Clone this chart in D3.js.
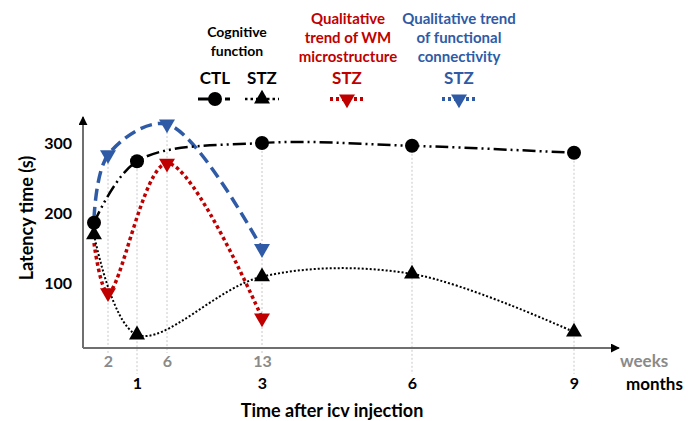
<!DOCTYPE html>
<html>
<head>
<meta charset="utf-8">
<script src="https://cdn.jsdelivr.net/npm/d3@7"></script>
<style>
  body { margin: 0; background: #fff; }
  text { font-family: Lato, "Open Sans", sans-serif; font-weight: 700; }
</style>
</head>
<body>
<svg id="chart" width="694" height="421"></svg>
<script>
// time in weeks (1 month = 13/3 weeks)
var weekTicks = [2, 6, 13];
var monthTicks = [1, 3, 6, 9];
var yTicks = [100, 200, 300];

var ctlWeeks = [0, 13 / 3, 13, 26, 39];
var ctlValues = [186, 274, 300, 296, 286];
var stzWeeks = [0, 13 / 3, 13, 26, 39];
var stzValues = [169, 26, 109, 113, 30];
var wmWeeks = [0, 2, 6, 13];
var wmValues = [157, 86, 271, 50];
var fcWeeks = [0, 2, 6, 13];
var fcValues = [192, 283, 327, 149];

var red = "#c00000";
var blue = "#2f5ba6";
var axisGray = "#6f6f6f";
var axisY = 348;

var svg = d3.select("#chart");

// schematic (uneven) time axis
var x = d3.scaleLinear()
  .domain([0, 2, 13 / 3, 6, 13, 26, 39])
  .range([94, 108, 137, 167, 262, 412, 574]);
var y = d3.scaleLinear().domain([0, 300]).range([353, 143]);

function pts(ws, vs) {
  return ws.map(function(w, i) { return {w: w, v: vs[i]}; });
}
var ctl = pts(ctlWeeks, ctlValues);
var stz = pts(stzWeeks, stzValues);
var wm = pts(wmWeeks, wmValues);
var fc = pts(fcWeeks, fcValues);

var defs = svg.append("defs");
defs.append("marker")
  .attr("id", "arrow")
  .attr("viewBox", "0 0 10 10")
  .attr("refX", 9).attr("refY", 5)
  .attr("markerWidth", 9).attr("markerHeight", 9)
  .attr("markerUnits", "userSpaceOnUse")
  .attr("orient", "auto")
  .append("path").attr("d", "M0,0L10,5L0,10Z").attr("fill", "#000");

// vertical guides
var guideWeeks = [2, 13 / 3, 6, 13, 26, 39];
var all = ctl.concat(stz, wm, fc);
guideWeeks.forEach(function(w) {
  var top = d3.max(all.filter(function(d) { return Math.abs(d.w - w) < 0.01; }), function(d) { return d.v; });
  var isWeekLabel = weekTicks.indexOf(w) >= 0;
  svg.append("line")
    .attr("x1", x(w)).attr("x2", x(w))
    .attr("y1", y(top)).attr("y2", isWeekLabel ? axisY + 5 : axisY + 26)
    .attr("stroke", "#c8c8c8")
    .attr("stroke-width", 1)
    .attr("stroke-dasharray", "2,2");
});

// axes lines
svg.append("line")
  .attr("x1", 83).attr("x2", 83).attr("y1", axisY).attr("y2", 117)
  .attr("stroke", axisGray).attr("stroke-width", 2)
  .attr("marker-end", "url(#arrow)");
svg.append("line")
  .attr("x1", 83).attr("x2", 619).attr("y1", axisY).attr("y2", axisY)
  .attr("stroke", axisGray).attr("stroke-width", 2)
  .attr("marker-end", "url(#arrow)");

// y tick labels
var yAxis = svg.append("g")
  .attr("transform", "translate(83,0)")
  .call(d3.axisLeft(y).tickValues(yTicks).tickSize(0).tickPadding(11));
yAxis.select(".domain").remove();
yAxis.selectAll("text").attr("font-size", 16).attr("font-family", null).attr("fill", "#000");

// weeks / months labels
var wAxis = svg.append("g")
  .attr("transform", "translate(0," + axisY + ")")
  .call(d3.axisBottom(x).tickValues(weekTicks).tickSize(0).tickPadding(8));
wAxis.select(".domain").remove();
wAxis.selectAll("text").attr("font-size", 16).attr("font-family", null).attr("fill", "#8a8a8a");

var mAxis = svg.append("g")
  .attr("transform", "translate(0," + axisY + ")")
  .call(d3.axisBottom(x).tickValues(monthTicks.map(function(m) { return m * 13 / 3; }))
    .tickFormat(function(d) { return Math.round(d * 3 / 13); })
    .tickSize(0).tickPadding(30));
mAxis.select(".domain").remove();
mAxis.selectAll("text").attr("font-size", 16).attr("font-family", null).attr("fill", "#000");

svg.append("text").attr("x", 620).attr("y", 367).attr("font-size", 17).attr("fill", "#8a8a8a").text("weeks");
svg.append("text").attr("x", 626).attr("y", 390).attr("font-size", 17).attr("fill", "#000").text("months");

svg.append("text").attr("x", 332).attr("y", 417).attr("text-anchor", "middle")
  .attr("font-size", 18).text("Time after icv injection");
svg.append("text").attr("transform", "translate(33,218) rotate(-90)")
  .attr("text-anchor", "middle").attr("font-size", 18).text("Latency time (s)");

// lines
var line = d3.line()
  .x(function(d) { return x(d.w); })
  .y(function(d) { return y(d.v); })
  .curve(d3.curveCatmullRom.alpha(0.5));

var styles = {
  ctl: {color: "#000", width: 2.5, dash: "13,4,2,4,2,4", key: "12,15,5,2"},
  stz: {color: "#000", width: 2, dash: "2,2", key: "2.5,3"},
  wm: {color: red, width: 3.5, dash: "3.5,3", key: "3,3"},
  fc: {color: blue, width: 3.5, dash: "12,6", key: "3,3"}
};

function drawLine(data, s) {
  svg.append("path").datum(data)
    .attr("d", line)
    .attr("fill", "none")
    .attr("stroke", s.color)
    .attr("stroke-width", s.width)
    .attr("stroke-dasharray", s.dash);
}
drawLine(fc, styles.fc);
drawLine(wm, styles.wm);
drawLine(ctl, styles.ctl);
drawLine(stz, styles.stz);

var triUp = d3.symbol(d3.symbolTriangle, 110);
function triangles(data, color, down) {
  svg.append("g").selectAll("path").data(data).enter().append("path")
    .attr("d", triUp)
    .attr("fill", color)
    .attr("transform", function(d) {
      return "translate(" + x(d.w) + "," + y(d.v) + ")" + (down ? " rotate(180)" : "");
    });
}
triangles(fc.slice(1), blue, true);
triangles(wm.slice(1), red, true);
triangles(stz, "#000", false);
svg.append("g").selectAll("circle").data(ctl).enter().append("circle")
  .attr("cx", function(d) { return x(d.w); })
  .attr("cy", function(d) { return y(d.v); })
  .attr("r", 7)
  .attr("fill", "#000");

// legend
function lines(txt, cx, y0, color, size) {
  txt.forEach(function(t, i) {
    svg.append("text").attr("x", cx).attr("y", y0 + i * 19)
      .attr("text-anchor", "middle").attr("font-size", size).attr("fill", color).text(t);
  });
}
lines(["Cognitive", "function"], 237, 37, "#000", 14);
lines(["Qualitative", "trend of WM", "microstructure"], 348, 24, red, 15);
lines(["Qualitative trend", "of functional", "connectivity"], 459, 24, blue, 15);

var legendKeys = [
  {label: "CTL", cx: 215, color: "#000", s: styles.ctl, mark: "circle"},
  {label: "STZ", cx: 262, color: "#000", s: styles.stz, mark: "up"},
  {label: "STZ", cx: 347, color: red, s: styles.wm, mark: "down"},
  {label: "STZ", cx: 459, color: blue, s: styles.fc, mark: "down"}
];
legendKeys.forEach(function(k) {
  svg.append("text").attr("x", k.cx).attr("y", 84).attr("text-anchor", "middle")
    .attr("font-size", 17).attr("fill", k.color).text(k.label);
  svg.append("line").attr("x1", k.cx - 17).attr("x2", k.cx + 17).attr("y1", 99).attr("y2", 99)
    .attr("stroke", k.s.color).attr("stroke-width", k.s.width + 0.5).attr("stroke-dasharray", k.s.key);
  if (k.mark === "circle") {
    svg.append("circle").attr("cx", k.cx).attr("cy", 99).attr("r", 7).attr("fill", k.color);
  } else {
    svg.append("path").attr("d", triUp).attr("fill", k.color)
      .attr("transform", "translate(" + k.cx + ",99)" + (k.mark === "down" ? " rotate(180)" : ""));
  }
});
</script>
</body>
</html>
